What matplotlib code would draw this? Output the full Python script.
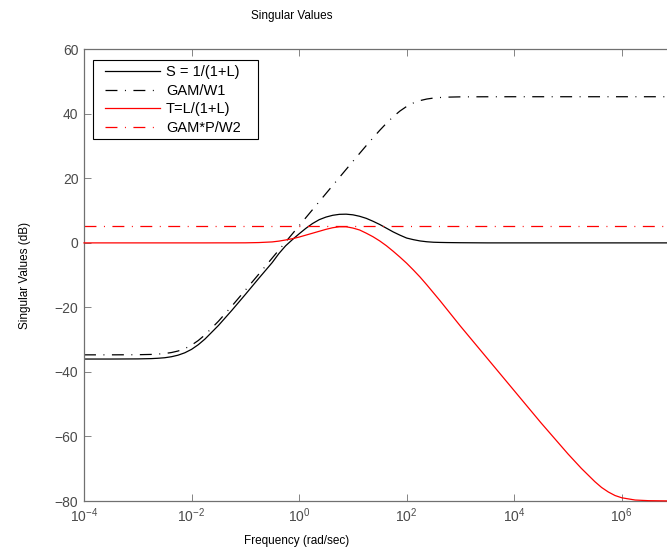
import matplotlib as mpl
mpl.use('Agg')
import matplotlib.pyplot as plt
from matplotlib.patches import Rectangle
from matplotlib.ticker import NullLocator
import numpy as np

plt.rcParams['font.family'] = ['Liberation Sans', 'DejaVu Sans']
plt.rcParams['font.size'] = 8.5
plt.rcParams['lines.scale_dashes'] = False

# frequency grid, as log10(rad/sec)
freq_exp = [-4, -3.5, -3, -2.75, -2.625, -2.5, -2.375, -2.25, -2.125, -2,
            -1.875, -1.75, -1.5, -1.25, -1, -0.75, -0.5, -0.375, -0.25, -0.125,
            0, 0.125, 0.25, 0.375, 0.5, 0.625, 0.75, 0.875, 1, 1.125,
            1.25, 1.375, 1.5, 1.625, 1.75, 1.875, 2, 2.125, 2.25, 2.375,
            2.5, 2.625, 2.75, 3, 3.5, 4, 4.5, 5, 5.25, 5.5,
            5.625, 5.75, 5.875, 6, 6.25, 6.5, 7]

# singular values in dB
s_db = [-36.0, -36.0, -35.96, -35.87, -35.76, -35.6, -35.29, -34.8, -34.06, -33.0,
        -31.56, -29.8, -25.6, -20.9, -16.0, -11.0, -6.1, -3.3, -0.9, 1.0,
        2.8, 4.5, 6.0, 7.2, 8.0, 8.55, 8.85, 8.9, 8.7, 8.25,
        7.6, 6.7, 5.7, 4.55, 3.4, 2.4, 1.5, 1.0, 0.6, 0.35,
        0.2, 0.14, 0.1, 0.05, 0.0, 0.0, 0.0, 0.0, 0.0, 0.0,
        0.0, 0.0, 0.0, 0.0, 0.0, 0.0, 0.0]
gam_w1_db = [-34.7, -34.7, -34.66, -34.57, -34.46, -34.29, -33.99, -33.51, -32.76, -31.69,
             -30.26, -28.51, -24.29, -19.57, -14.66, -9.7, -4.7, -2.2, 0.3, 2.8,
             5.3, 7.8, 10.3, 12.8, 15.3, 17.8, 20.29, 22.78, 25.26, 27.72,
             30.17, 32.56, 34.89, 37.09, 39.11, 40.86, 42.29, 43.36, 44.11, 44.59,
             44.89, 45.06, 45.17, 45.26, 45.29, 45.3, 45.3, 45.3, 45.3, 45.3,
             45.3, 45.3, 45.3, 45.3, 45.3, 45.3, 45.3]
t_db = [0.0, 0.0, 0.0, 0.0, 0.0, 0.0, 0.0, 0.0, 0.0, 0.0,
        0.0, 0.0, 0.01, 0.01, 0.02, 0.1, 0.3, 0.55, 0.9, 1.3,
        1.8, 2.4, 3.0, 3.6, 4.2, 4.7, 5.0, 5.0, 4.6, 4.0,
        3.0, 1.9, 0.6, -0.9, -2.6, -4.4, -6.3, -8.4, -10.6, -13.0,
        -15.5, -18.0, -20.6, -25.8, -35.8, -45.8, -55.8, -65.4, -69.9, -74.0,
        -75.8, -77.2, -78.3, -79.0, -79.7, -79.9, -80.0]
gam_p_w2_db = 5.3

labels = ['S = 1/(1+L)', 'GAM/W1', 'T=L/(1+L)', 'GAM*P/W2']

W, H = 667, 551
freq = 10.0 ** np.array(freq_exp)

fig = plt.figure(figsize=(W / 100, H / 100), dpi=100)
# axes runs on past the right edge of the picture, as in the original crop
ax = fig.add_axes([84 / W, 50 / H, 591.5 / W, 451.7 / H])

dashdot = (0, (8.6, 5.4, 0.7, 5.4))
h1, = ax.plot(freq, s_db, color='k', lw=0.9)
h2, = ax.plot(freq, gam_w1_db, color='k', lw=0.9, linestyle=dashdot)
h3, = ax.plot(freq, t_db, color='r', lw=0.9, clip_on=False, zorder=3)
h4, = ax.plot(freq, np.full(len(freq), gam_p_w2_db), color='r', lw=0.9, linestyle=dashdot)

ax.set_xscale('log')
ax.set_xlim(1e-4, 1e7)
ax.set_ylim(-80, 60)
ax.set_xticks([1e-4, 1e-2, 1e0, 1e2, 1e4, 1e6])
ax.xaxis.set_minor_locator(NullLocator())
ax.set_yticks(np.arange(-80, 61, 20))
ax.tick_params(direction='in', top=True, right=True, length=5, width=0.6,
               color='#707070', labelcolor='#4a4a4a', pad=4, labelsize=10)
for sp in ax.spines.values():
    sp.set_color('#707070')
    sp.set_linewidth(0.9)

fig.text(292 / W, 1 - 16 / H, 'Singular Values', ha='center', va='center', fontsize=8.5)
fig.text(297 / W, 1 - 541 / H, 'Frequency (rad/sec)', ha='center', va='center', fontsize=8.5)
fig.text(25 / W, 1 - 275 / H, 'Singular Values (dB)', ha='center', va='center',
         rotation=90, fontsize=8.5)

# legend box drawn by hand, entries placed inside it
box = Rectangle((93.3 / W, 1 - 139.3 / H), (258 - 93.3) / W, 79.3 / H,
                transform=fig.transFigure, facecolor='white', edgecolor='k', lw=0.8, zorder=4)
fig.add_artist(box)
leg = fig.legend([h1, h2, h3, h4], labels, loc='upper left',
                 bbox_to_anchor=(104.7 / W, 1 - 65 / H), frameon=False,
                 borderpad=0, borderaxespad=0, handlelength=3.8, handletextpad=0.4,
                 labelspacing=0.32, fontsize=10.5)
leg.set_zorder(5)

fig.savefig('out.png', dpi=100)
